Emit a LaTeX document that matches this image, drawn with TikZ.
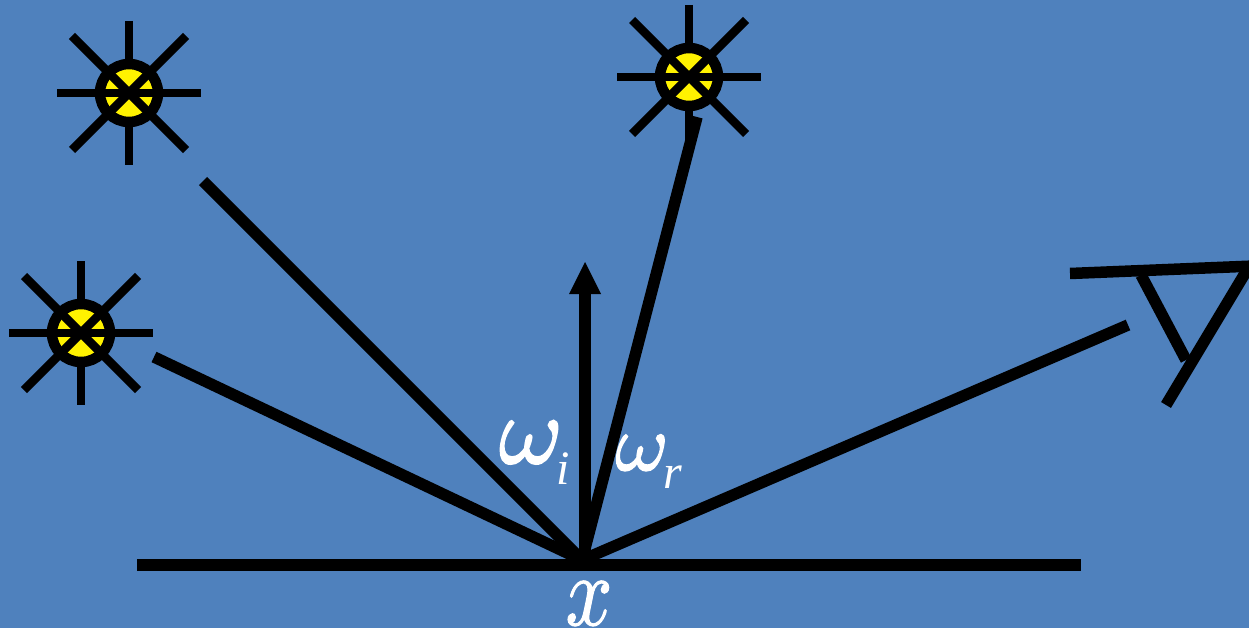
\documentclass[tikz,border=0pt]{standalone}
\usepackage{fontspec}
\setmainfont{Liberation Serif}
\usetikzlibrary{arrows.meta}
\definecolor{bgblue}{RGB}{79,129,189}
\newcommand{\heavytext}[2]{\special{pdf:code q 1 1 1 RG #1 w 2 Tr}#2\special{pdf:code Q}}
\tikzset{
  x=1pt,y=-1pt,
  ray/.style={line width=11.5pt,draw=black},
  sunray/.style={line width=8.5pt,draw=black},
  sunbody/.style={circle,draw=black,fill=yellow,line width=10.5pt,minimum size=58pt,inner sep=0pt,outer sep=0pt},
  lbl/.style={text=white,inner sep=0pt,font=\itshape},
  pics/sun/.style={code={
    \node[sunbody] (#1) at (0,0) {};
    \draw[sunray] (-72,0) -- (72,0);
    \draw[sunray] (0,-72) -- (0,-30);
    \draw[sunray] (0,30) -- (0,72);
    \draw[sunray] (-57,-57) -- (57,57);
    \draw[sunray] (-57,57) -- (57,-57);
  }}
}
\begin{document}
\begin{tikzpicture}
\useasboundingbox (0,0) rectangle (1249,628);
\fill[bgblue] (0,0) rectangle (1249,628);
\pic at (129,93) {sun=sunA};
\pic at (689,77) {sun=sunB};
\pic at (81,333) {sun=sunC};
\coordinate (p) at (582,560);
\coordinate (a1) at (203,181);
\coordinate (a2) at (154,357);
\coordinate (a3) at (697,117);
\coordinate (a4) at (1128,325);
\coordinate (n0) at (585,560);
\coordinate (n1) at (585,262);
\coordinate (gl) at (137,565);
\coordinate (gr) at (1081,565);
\coordinate (e1) at (1070,273.5);
\coordinate (e2) at (1254,266);
\coordinate (e3) at (1141,275);
\coordinate (e4) at (1186,360);
\coordinate (e5) at (1250,265);
\coordinate (e6) at (1166,405);
\draw[ray] (a1) -- (p);
\draw[ray] (a2) -- (p);
\draw[ray] (a3) -- (p);
\draw[ray] (a4) -- (p);
\draw[ray] (gl) -- (gr);
\draw[ray,-{Triangle[length=32pt,width=32pt,line width=0pt]}] (n0) -- (n1);
\draw[ray] (e1) -- (e2);
\draw[ray] (e3) -- (e4);
\draw[ray] (e5) -- (e6);
\node[lbl,anchor=base] (wi) at (531,463) {\scalebox{9.6}{\heavytext{0.2}{$\omega$}}};
\node[lbl,anchor=base] (si) at (563,484) {\fontsize{48}{48}\selectfont i};
\node[lbl,anchor=base] (wr) at (642,470) {\scalebox{8}{\heavytext{0.2}{$\omega$}}};
\node[lbl,anchor=base] (sr) at (673,488) {\fontsize{48}{48}\selectfont r};
\node[lbl,anchor=base] (xl) at (589,625) {\scalebox{8.2}[10]{\heavytext{0.12}{$x$}}};
\end{tikzpicture}
\end{document}
